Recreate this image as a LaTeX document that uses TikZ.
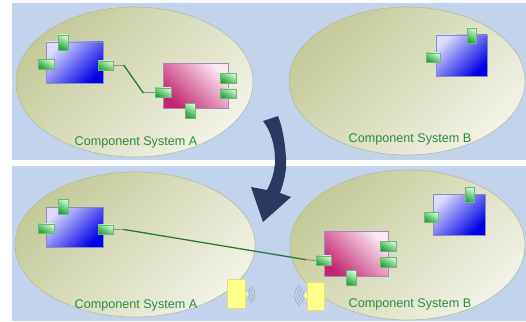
\documentclass[tikz,border=0pt]{standalone}
\usepackage{fontspec}
\setmainfont{Liberation Sans}
\usetikzlibrary{shapes.geometric}

\definecolor{panelbg}{HTML}{C3D3EB}
\definecolor{olivedark}{HTML}{C4CA98}
\definecolor{olivelight}{HTML}{F2F2E8}
\definecolor{ellborder}{HTML}{B4BC9C}
\definecolor{bluelight}{HTML}{DCDCFF}
\definecolor{bluedark}{HTML}{0000E6}
\definecolor{bluebord}{HTML}{8C8CBE}
\definecolor{pinklight}{HTML}{FAE8F2}
\definecolor{pinkdark}{HTML}{C42470}
\definecolor{pinkbord}{HTML}{A888B8}
\definecolor{portlight}{HTML}{CCF6CC}
\definecolor{portdark}{HTML}{22A436}
\definecolor{portbord}{HTML}{6CB47C}
\definecolor{labelgreen}{HTML}{2C8C3C}
\definecolor{wiregreen}{HTML}{2A7A30}
\definecolor{stubgray}{HTML}{8C949C}
\definecolor{arrowblue}{HTML}{2A3A5E}
\definecolor{padyellow}{HTML}{FFFF8C}
\definecolor{padbord}{HTML}{E6E070}
\definecolor{ringgray}{HTML}{96A6C6}

\begin{document}
\begin{tikzpicture}[x=1pt,y=-1pt,
  panel/.style={fill=panelbg},
  sysell/.style={ellipse, draw=ellborder, line width=0.6pt, top color=olivedark,
    bottom color=olivelight, shading angle=45, inner sep=0pt},
  bluecomp/.style={rectangle, draw=bluebord, line width=0.6pt, top color=bluelight,
    bottom color=bluedark, shading angle=45, inner sep=0pt},
  pinkcomp/.style={rectangle, draw=pinkbord, line width=0.6pt, top color=pinklight,
    bottom color=pinkdark, shading angle=-45, inner sep=0pt},
  hport/.style={rectangle, draw=portbord, line width=0.5pt, top color=portlight,
    bottom color=portdark, shading angle=-30, minimum width=15pt, minimum height=9.5pt, inner sep=0pt},
  vport/.style={rectangle, draw=portbord, line width=0.5pt, top color=portlight,
    bottom color=portdark, shading angle=-30, minimum width=9.5pt, minimum height=15pt, inner sep=0pt},
  syslabel/.style={text=labelgreen, font=\fontsize{12.6}{15}\selectfont, inner sep=0pt},
  stub/.style={draw=stubgray, line width=1pt},
  wire/.style={draw=wiregreen, line width=1.3pt},
  joint/.style={fill=stubgray!70!black},
  pad/.style={rectangle, fill=padyellow, draw=padbord, line width=0.5pt, inner sep=0pt},
  ring/.style={draw=ringgray, line width=0.6pt}
]
\useasboundingbox (0,0) rectangle (526,321);
\fill[white] (0,0) rectangle (526,321);

% the two panels
\fill[panel] (12,3) rectangle (526,160);
\fill[panel] (12,166) rectangle (526,321);

% ---------- upper panel ----------
\node[sysell, minimum width=237pt, minimum height=150pt] (sysA1) at (134.5,82) {};
\node[sysell, minimum width=236pt, minimum height=148pt] (sysB1) at (407,81) {};
\node[syslabel] (labA1) at (136,142.5) {Component System A};
\node[syslabel] (labB1) at (410,139) {Component System B};

\node[bluecomp, minimum width=57pt, minimum height=41pt] (cA1) at (74.5,62.5) {};
\node[vport] (cA1t) at (63,42.5) {};
\node[hport, minimum width=16pt] (cA1l) at (46,64) {};
\node[hport] (cA1r) at (105.5,65.5) {};

\node[pinkcomp, minimum width=65pt, minimum height=45pt] (cP1) at (195.5,85.5) {};
\node[hport, minimum width=16pt] (cP1l) at (163,92.5) {};
\node[hport, minimum width=16pt] (cP1r1) at (228,78) {};
\node[hport, minimum width=16pt] (cP1r2) at (228,93.5) {};
\node[vport] (cP1b) at (190,110.5) {};

\node[bluecomp, minimum width=51pt, minimum height=41pt] (cB1) at (461.5,55.5) {};
\node[vport, minimum width=9pt] (cB1t) at (471.5,35.5) {};
\node[hport, minimum width=14pt] (cB1l) at (433,57.5) {};

\coordinate (j1) at (124,65.5);
\coordinate (j2) at (143,92.5);
\draw[stub] (cA1r.east) -- (j1);
\draw[wire] (j1) -- (j2);
\draw[stub] (j2) -- (cP1l.west);
\fill[joint] (j1) circle[radius=1];
\fill[joint] (j2) circle[radius=1];

% ---------- lower panel ----------
\node[sysell, minimum width=240pt, minimum height=145pt] (sysA2) at (135,244.5) {};
\node[sysell, minimum width=235pt, minimum height=150pt] (sysB2) at (407.5,245) {};
\node[syslabel] (labA2) at (136,305.5) {Component System A};
\node[syslabel] (labB2) at (410,304) {Component System B};

\node[bluecomp, minimum width=57pt, minimum height=40pt] (cA2) at (74.5,227) {};
\node[vport] (cA2t) at (63,206.5) {};
\node[hport, minimum width=16pt] (cA2l) at (46,228.5) {};
\node[hport] (cA2r) at (105.5,229.5) {};

\node[pinkcomp, minimum width=64pt, minimum height=45pt] (cP2) at (356,253.5) {};
\node[hport] (cP2l) at (323.5,260.5) {};
\node[hport, minimum width=16pt] (cP2r1) at (388,246) {};
\node[hport, minimum width=16pt] (cP2r2) at (388,262) {};
\node[vport] (cP2b) at (351,278) {};

\node[bluecomp, minimum width=52pt, minimum height=41pt] (cB2) at (459,214.5) {};
\node[vport, minimum width=9pt] (cB2t) at (469.5,195) {};
\node[hport, minimum width=14pt] (cB2l) at (431,217) {};

\coordinate (j3) at (124,229.5);
\coordinate (j4) at (305,259.5);
\draw[stub] (cA2r.east) -- (j3);
\draw[wire] (j3) -- (j4);
\draw[stub] (j4) -- (cP2l.west);
\fill[joint] (j3) circle[radius=1];
\fill[joint] (j4) circle[radius=1];

% connection pads with their signal rings
\foreach \r in {5,7.5,10}
  \draw[ring] (245,294.5) ++(-55:\r) arc[start angle=-55, end angle=55, radius=\r];
\fill[padyellow] (245,294.5) circle[radius=3];
\node[pad, minimum width=18pt, minimum height=29pt] (padA) at (236,293.5) {};

\foreach \r in {5,7.5,10,12.5}
  \draw[ring] (307,295.5) ++(125:\r) arc[start angle=125, end angle=235, radius=\r];
\fill[padyellow] (307,295.5) circle[radius=3];
\node[pad, minimum width=17pt, minimum height=28pt] (padB) at (315.5,296) {};

% transition arrow between the panels
\fill[arrowblue] (263,121)
  .. controls (271,131) and (275,146) .. (275,160)
  .. controls (275,172) and (271,182) .. (267,190)
  -- (251,187) -- (263,222) -- (291,197) -- (280,193)
  .. controls (284,182) and (287,170) .. (286,158)
  .. controls (285,141) and (282,126) .. (278,116)
  -- cycle;
\end{tikzpicture}
\end{document}
